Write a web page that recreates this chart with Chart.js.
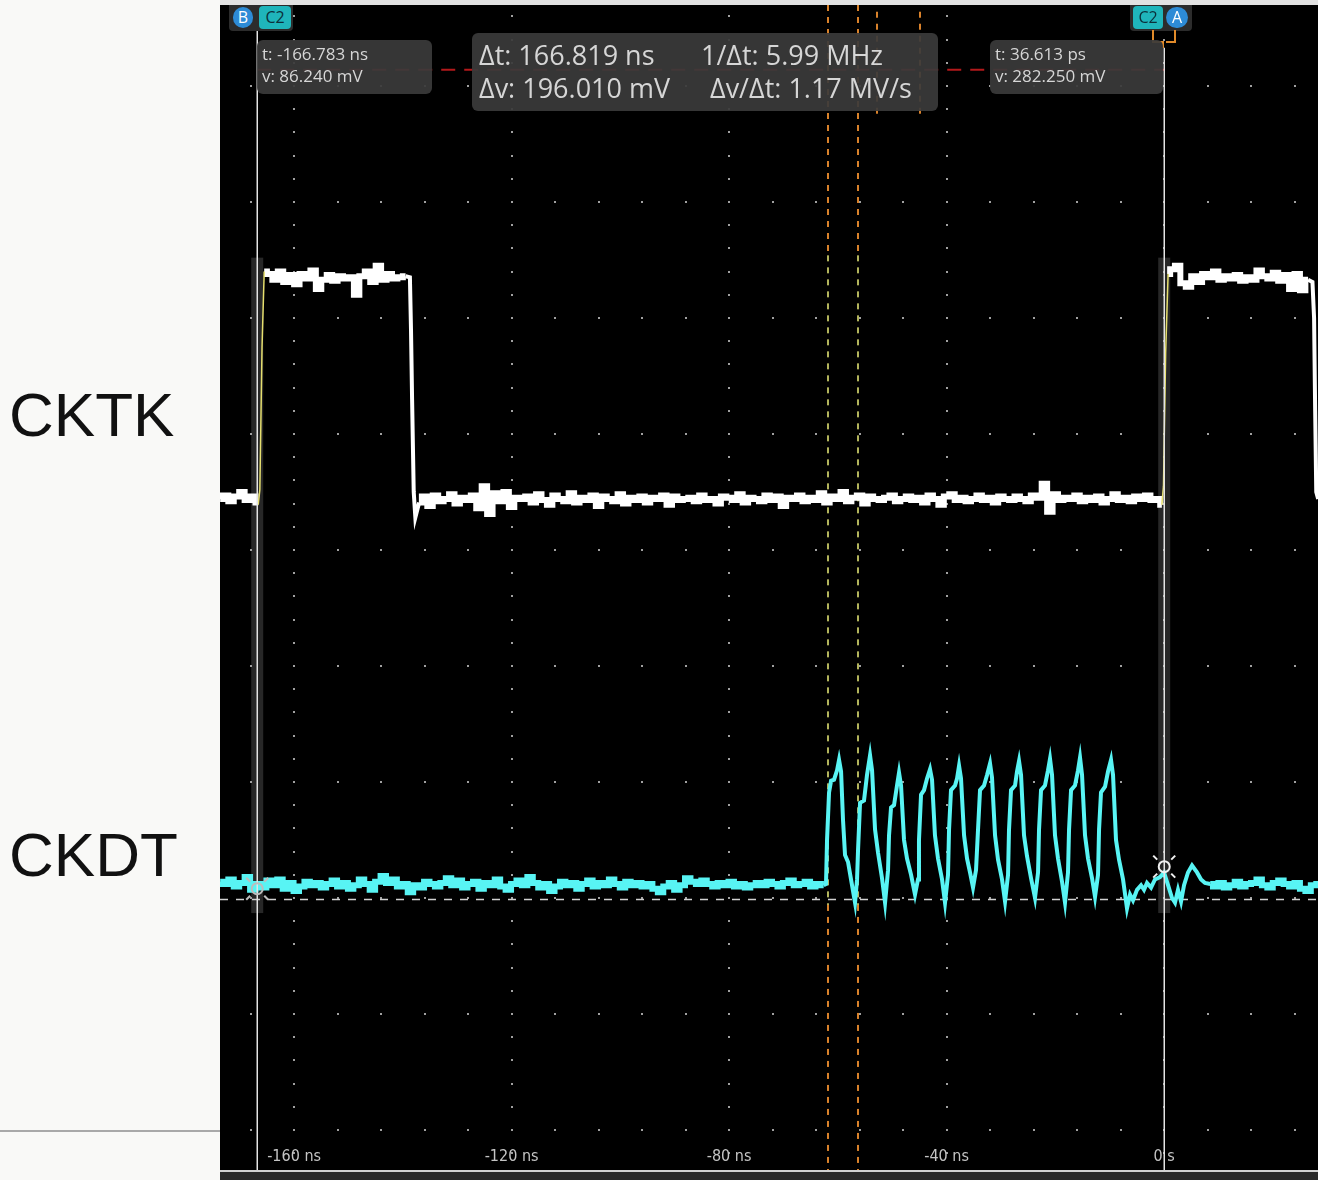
<!DOCTYPE html>
<html>
<head>
<meta charset="utf-8">
<title>CKTK / CKDT capture</title>
<script src="https://cdn.jsdelivr.net/npm/chart.js@4.4.1/dist/chart.umd.min.js"></script>
<style>
  body { margin: 0; width: 1318px; height: 1180px; background: #f9f9f7; position: relative; overflow: hidden; font-family: "Open Sans", sans-serif; }
  #topStrip { position: absolute; left: 220px; top: 0; width: 1098px; height: 5px; background: #e2e2e2; }
  #scope { position: absolute; left: 220px; top: 5px; width: 1098px; height: 1165px; background: #000; }
  #bottomBar { position: absolute; left: 220px; top: 1170px; width: 1098px; height: 10px; background: #2a2a2a; border-top: 2px solid #d2d2d2; box-sizing: border-box; }
  #leftRule { position: absolute; left: 0; top: 1130px; width: 220px; height: 2px; background: #a9a9a9; }
  .chan { position: absolute; left: 9px; font-family: "Liberation Sans", Arial, sans-serif; font-size: 62px; line-height: 62px; color: #111; }
  .box { position: absolute; background: rgba(58, 58, 58, 0.93); border-radius: 6px; color: #d6d6d6; }
  .box span { position: absolute; white-space: nowrap; }
  .small { font-size: 17px; line-height: 22px; }
  .big { font-size: 27px; line-height: 33px; }
  .strip { position: absolute; top: 5px; height: 26px; background: #2c2c2c; border-radius: 0 0 4px 4px; }
  .badge { position: absolute; text-align: center; font-size: 16px; }
  .blue { background: #2d8bd6; color: #fff; border-radius: 11px; height: 21px; line-height: 21px; top: 7px; }
  .cyan { background: #1fb5bb; color: #0b2f3a; border-radius: 4px; height: 23px; line-height: 23px; top: 6px; }
  .wire { position: absolute; background: #e08a2a; }
</style>
</head>
<body>
<div id="topStrip"></div>
<div class="chan" style="top:384px">CKTK</div>
<div class="chan" style="top:824px">CKDT</div>
<div id="leftRule"></div>

<div id="scope"><canvas id="scopeChart" width="1098" height="1165"></canvas></div>
<div id="bottomBar"></div>

<div class="strip" style="left:229px;width:64px"></div>
<div class="badge blue" style="left:233px;width:20px">B</div>
<div class="badge cyan" style="left:259px;width:32px">C2</div>
<div class="strip" style="left:1130px;width:62px"></div>
<div class="badge cyan" style="left:1133px;width:30px">C2</div>
<div class="badge blue" style="left:1166px;width:22px">A</div>
<div class="wire" style="left:1152px;top:30px;width:2px;height:13px"></div>
<div class="wire" style="left:1152px;top:41px;width:10px;height:2px"></div>
<div class="wire" style="left:1174px;top:30px;width:2px;height:13px"></div>
<div class="wire" style="left:1166px;top:41px;width:10px;height:2px"></div>
<div class="wire" style="left:1162px;top:41px;width:2px;height:7px"></div>

<div class="box small" style="left:257px;top:40px;width:175px;height:54px">
  <span style="left:5px;top:3px">t: -166.783 ns</span>
  <span style="left:5px;top:25px">v: 86.240 mV</span>
</div>
<div class="box big" style="left:472px;top:33px;width:466px;height:78px">
  <span style="left:7px;top:5px">Δt: 166.819 ns</span>
  <span style="left:229px;top:5px">1/Δt: 5.99 MHz</span>
  <span style="left:7px;top:38px">Δv: 196.010 mV</span>
  <span style="left:238px;top:38px">Δv/Δt: 1.17 MV/s</span>
</div>
<div class="box small" style="left:990px;top:40px;width:173px;height:54px">
  <span style="left:5px;top:3px">t: 36.613 ps</span>
  <span style="left:5px;top:25px">v: 282.250 mV</span>
</div>

<script>
// screen window: time in ns, vertical in divisions (0 = bottom graticule row)
const TIME_MIN = -173.63;
const TIME_MAX = 28.32;
const DIV_MIN = -0.345;
const DIV_MAX = 9.698;
const SAMPLE_NS = 1;

const xTickValues = [-160, -120, -80, -40, 0];
const xTickLabels = ["-160 ns", "-120 ns", "-80 ns", "-40 ns", "0 s"];
const yGridDivs = [0, 1, 2, 3, 4, 5, 6, 7, 8, 9];
const DOT_STEP_NS = 8;
const xLabelLevel = -0.233;

// cursors B and A
const cursorTimes = [-166.783, 0.0366];
const cursorLevels = [2.08, 2.27];
const cursorTops = [DIV_MAX, 9.33];
const cursorBandRange = [1.87, 7.52];
const readoutGuideLevel = 9.14;
const ckdtRefLevel = 1.99;

// timing markers
const markerTimes = [-61.8, -56.28];
const markerTintRange = [1.94, 7.54];
const shortMarkerTimes = [-52.79, -44.88];
const shortMarkerRange = [8.72, 9.64];

// CKTK (white)
const cktkPreLow = [5.44, 5.47, 5.42, 5.46, 5.5, 5.43, 5.46, 5.41]; // from -173.6 ns
const cktkRiseA = [[-166.6, 5.39], [-166.3, 5.52], [-165.9, 6.75], [-165.5, 7.4]];
const cktkHighA = [7.38, 7.33, 7.4, 7.31, 7.37, 7.29, 7.38, 7.34, 7.41, 7.25, 7.33, 7.37, 7.32,
  7.36, 7.34, 7.35, 7.2, 7.36, 7.4, 7.31, 7.45, 7.33, 7.38, 7.34, 7.35, 7.36]; // from -164.5 ns
const cktkFallA = [[-138.7, 7.35], [-138.5, 6.9], [-138.3, 6.3], [-138.0, 5.5], [-137.7, 5.28]];
const cktkLowB = [
  5.41, 5.46, 5.38, 5.47, 5.42, 5.44, 5.48, 5.4, 5.45, 5.43,
  5.47, 5.36, 5.55, 5.31, 5.49, 5.42, 5.5, 5.37, 5.45, 5.44,
  5.46, 5.41, 5.48, 5.43, 5.39, 5.47, 5.44, 5.42, 5.49, 5.41,
  5.45, 5.43, 5.47, 5.38, 5.46, 5.44, 5.42, 5.48, 5.4, 5.45,
  5.43, 5.46, 5.41, 5.45, 5.44, 5.47, 5.39, 5.46, 5.43, 5.44,
  5.45, 5.42, 5.47, 5.43, 5.44, 5.4, 5.46, 5.45, 5.43, 5.48,
  5.41, 5.45, 5.44, 5.42, 5.47, 5.43, 5.46, 5.38, 5.45, 5.44,
  5.47, 5.42, 5.45, 5.43, 5.49, 5.41, 5.46, 5.44, 5.5, 5.42,
  5.45, 5.47, 5.4, 5.46, 5.44, 5.43, 5.45, 5.47, 5.42, 5.44,
  5.46, 5.43, 5.45, 5.41, 5.47, 5.44, 5.39, 5.46, 5.48, 5.43,
  5.45, 5.42, 5.44, 5.47, 5.43, 5.45, 5.41, 5.46, 5.44, 5.43,
  5.46, 5.44, 5.42, 5.47, 5.45, 5.57, 5.33, 5.48, 5.43, 5.45,
  5.44, 5.47, 5.42, 5.45, 5.43, 5.46, 5.41, 5.44, 5.48, 5.43,
  5.45, 5.42, 5.46, 5.44, 5.47, 5.43, 5.44]; // from -137 ns
const cktkRiseB = [[-0.4, 5.39], [-0.1, 5.55], [0.3, 6.7], [0.75, 7.38]];
const cktkHighB = [7.42, 7.45, 7.3, 7.27, 7.36, 7.31, 7.38, 7.35, 7.4, 7.33, 7.36, 7.34, 7.37,
  7.32, 7.35, 7.33, 7.41, 7.36, 7.34, 7.39, 7.32, 7.37, 7.25, 7.38, 7.24, 7.33]; // from 1.5 ns
const cktkFallB = [[27.3, 7.31], [27.6, 7.0], [27.8, 6.2], [28.0, 5.5], [28.35, 5.44]];

// CKDT (cyan)
const ckdtBaseA = [
  2.14, 2.12, 2.16, 2.1, 2.13, 2.18, 2.07, 2.12, 2.09, 2.15,
  2.11, 2.16, 2.08, 2.13, 2.06, 2.1, 2.14, 2.11, 2.13, 2.09,
  2.12, 2.15, 2.1, 2.13, 2.08, 2.11, 2.16, 2.12, 2.07, 2.14,
  2.19, 2.13, 2.16, 2.1, 2.12, 2.05, 2.11, 2.09, 2.14, 2.12,
  2.1, 2.13, 2.17, 2.11, 2.15, 2.09, 2.12, 2.14, 2.08, 2.13,
  2.11, 2.16, 2.1, 2.07, 2.12, 2.15, 2.11, 2.18, 2.13, 2.09,
  2.12, 2.06, 2.1, 2.14, 2.11, 2.13, 2.08, 2.12, 2.15, 2.1,
  2.13, 2.11, 2.16, 2.12, 2.09, 2.14, 2.11, 2.13, 2.1, 2.12,
  2.08, 2.05, 2.1, 2.13, 2.07, 2.11, 2.17, 2.14, 2.12, 2.15,
  2.12, 2.1, 2.13, 2.11, 2.14, 2.1, 2.12, 2.09, 2.11, 2.13,
  2.11, 2.14, 2.12, 2.1, 2.13, 2.15, 2.11, 2.12, 2.14, 2.1,
  2.12, 2.11]; // from -173.6 ns
const ckdtBurst = [
  [-62.17, 2.12], [-61.98, 2.5], [-61.61, 2.91], [-61.24, 3.01], [-60.69, 3.02], [-60.14, 3.1],
  [-59.77, 3.19], [-59.4, 3.09], [-59.04, 2.67], [-58.67, 2.37], [-58.12, 2.31], [-57.57, 2.16], [-56.83, 1.96],
  [-56.46, 2.16], [-56.28, 2.41], [-55.91, 2.82], [-55.18, 2.84], [-54.63, 3.06], [-54.07, 3.23],
  [-53.7, 3.1], [-53.15, 2.59], [-52.6, 2.39], [-51.87, 2.17], [-51.31, 1.96],
  [-50.76, 2.24], [-50.58, 2.54], [-50.21, 2.78], [-49.66, 2.8], [-49.11, 2.97], [-48.74, 3.08],
  [-48.37, 2.97], [-47.82, 2.5], [-47.27, 2.34], [-46.53, 2.2], [-45.8, 2.03],
  [-45.25, 2.16], [-45.07, 2.5], [-44.69, 2.89], [-44.14, 2.93], [-43.59, 3.03], [-43.04, 3.11],
  [-42.67, 3.02], [-42.13, 2.54], [-41.57, 2.34], [-40.83, 2.16], [-40.28, 1.96],
  [-39.73, 2.2], [-39.54, 2.59], [-39.18, 2.93], [-38.44, 2.97], [-38.07, 3.03], [-37.7, 3.14],
  [-37.34, 3.03], [-36.78, 2.54], [-36.23, 2.34], [-35.68, 2.22], [-35.13, 2.09],
  [-34.58, 2.24], [-34.21, 2.59], [-33.84, 2.93], [-33.11, 2.97], [-32.55, 3.06], [-32.0, 3.16],
  [-31.64, 3.04], [-31.08, 2.54], [-30.53, 2.33], [-29.8, 2.16], [-29.24, 1.97],
  [-28.69, 2.2], [-28.51, 2.59], [-28.14, 2.93], [-27.4, 2.97], [-27.04, 3.09], [-26.67, 3.18],
  [-26.3, 3.06], [-25.75, 2.54], [-25.2, 2.36], [-24.46, 2.17], [-23.73, 2.0],
  [-23.17, 2.22], [-22.99, 2.59], [-22.62, 2.93], [-21.89, 2.97], [-21.34, 3.1], [-20.97, 3.2],
  [-20.6, 3.06], [-20.05, 2.54], [-19.5, 2.34], [-18.76, 2.14], [-18.21, 1.96],
  [-17.66, 2.22], [-17.47, 2.59], [-17.1, 2.93], [-16.37, 2.97], [-15.82, 3.1], [-15.45, 3.21],
  [-15.08, 3.06], [-14.53, 2.54], [-13.98, 2.34], [-13.24, 2.17], [-12.69, 2.01],
  [-12.14, 2.2], [-11.95, 2.59], [-11.59, 2.91], [-10.85, 2.96], [-10.3, 3.09], [-9.75, 3.19],
  [-9.38, 3.06], [-8.83, 2.5], [-8.28, 2.33], [-7.54, 2.16], [-6.81, 1.91],
  [-6.25, 2.03], [-5.7, 1.98], [-4.97, 2.07], [-4.23, 2.11], [-3.68, 2.07], [-3.13, 2.13],
  [-2.39, 2.09], [-1.66, 2.16], [-0.74, 2.18], [0.0, 2.22], [0.74, 2.11], [1.47, 2.0],
  [2.02, 1.96], [2.57, 2.07], [3.13, 1.97], [3.68, 2.11], [4.41, 2.22], [5.15, 2.28],
  [6.07, 2.22], [6.81, 2.16], [7.54, 2.13]];
const ckdtBaseB = [2.12, 2.1, 2.13, 2.09, 2.11, 2.14, 2.1, 2.12, 2.13, 2.16, 2.11,
  2.09, 2.13, 2.15, 2.12, 2.1, 2.13, 2.08, 2.06, 2.11, 2.12]; // from 8.5 ns

function sampled(start, values) {
  return values.map((v, i) => ({ x: start + i * SAMPLE_NS, y: v }));
}

function pairs(list) {
  return list.map(([x, y]) => ({ x, y }));
}

function gapAt(list) {
  return { x: list[0][0] + 0.01, y: null };
}

// noisy flat parts are drawn stepped (blocky like the scope); edges are drawn straight
const cktkFlat = [
  ...sampled(-173.6, cktkPreLow),
  gapAt(cktkRiseA),
  ...pairs(cktkRiseA.slice(-1)),
  ...sampled(-164.5, cktkHighA),
  { x: cktkFallA[0][0], y: null },
  ...sampled(-137, cktkLowB),
  ...pairs(cktkRiseB.slice(0, 1)),
  gapAt(cktkRiseB),
  ...pairs(cktkRiseB.slice(-1)),
  ...sampled(1.5, cktkHighB),
];
const cktkFalls = [
  ...sampled(-139.5, cktkHighA.slice(-1)),
  ...pairs(cktkFallA),
  ...sampled(-137, cktkLowB.slice(0, 1)),
  { x: -60, y: null },
  ...sampled(26.5, cktkHighB.slice(-1)),
  ...pairs(cktkFallB),
];
const edgePoints = [...pairs(cktkRiseA), { x: -80, y: null }, ...pairs(cktkRiseB)];

const ckdtFlat = [
  ...sampled(-173.6, ckdtBaseA),
  { x: -62.3, y: null },
  ...sampled(8.5, ckdtBaseB),
];
const ckdtActive = [
  ...sampled(-62.6, ckdtBaseA.slice(-1)),
  ...pairs(ckdtBurst),
  ...sampled(8.5, ckdtBaseB.slice(0, 1)),
];

function vSegment(ctx, px, y1, y2, color) {
  ctx.strokeStyle = color;
  ctx.beginPath();
  ctx.moveTo(px, y1);
  ctx.lineTo(px, y2);
  ctx.stroke();
}

const scopeOverlay = {
  id: "scopeOverlay",
  beforeDatasetsDraw(chart) {
    const { ctx, chartArea } = chart;
    const x = chart.scales.x;
    const y = chart.scales.y;
    ctx.save();

    // cursor highlight bands
    ctx.fillStyle = "#272727";
    const bandTop = y.getPixelForValue(cursorBandRange[1]);
    const bandBottom = y.getPixelForValue(cursorBandRange[0]);
    cursorTimes.forEach((t) => {
      const px = x.getPixelForValue(t);
      ctx.fillRect(px - 6, bandTop, 12, bandBottom - bandTop);
    });

    // dotted graticule
    ctx.fillStyle = "#a0a0a0";
    yGridDivs.forEach((d) => {
      const py = Math.round(y.getPixelForValue(d));
      for (let t = Math.ceil(x.min / DOT_STEP_NS) * DOT_STEP_NS; t <= x.max; t += DOT_STEP_NS) {
        ctx.fillRect(Math.round(x.getPixelForValue(t)) - 1, py - 1, 2, 2);
      }
    });
    xTickValues.forEach((t) => {
      const px = Math.round(x.getPixelForValue(t));
      for (let k = -1; k * 0.2 <= y.max; k++) {
        ctx.fillRect(px - 1, Math.round(y.getPixelForValue(k * 0.2)) - 1, 2, 2);
      }
    });

    // timing markers
    ctx.lineWidth = 2;
    ctx.setLineDash([6, 6]);
    const tintTop = y.getPixelForValue(markerTintRange[1]);
    const tintBottom = y.getPixelForValue(markerTintRange[0]);
    markerTimes.forEach((t) => {
      const px = Math.round(x.getPixelForValue(t));
      vSegment(ctx, px, chartArea.top, tintTop, "#d9822b");
      vSegment(ctx, px, tintTop, tintBottom, "#b2b45c");
      vSegment(ctx, px, tintBottom, chartArea.bottom, "#d9822b");
    });
    shortMarkerTimes.forEach((t) => {
      const px = Math.round(x.getPixelForValue(t));
      vSegment(ctx, px, y.getPixelForValue(shortMarkerRange[1]), y.getPixelForValue(shortMarkerRange[0]), "#d9822b");
    });

    // readout guide and CKDT reference level
    ctx.strokeStyle = "#b3191b";
    ctx.setLineDash([14, 9]);
    const gy = y.getPixelForValue(readoutGuideLevel);
    ctx.beginPath();
    ctx.moveTo(x.getPixelForValue(cursorTimes[0]), gy);
    ctx.lineTo(x.getPixelForValue(cursorTimes[1]), gy);
    ctx.stroke();

    ctx.strokeStyle = "#d0d0d0";
    ctx.lineWidth = 1.5;
    ctx.setLineDash([8, 8]);
    const ry = Math.round(y.getPixelForValue(ckdtRefLevel)) + 0.5;
    ctx.beginPath();
    ctx.moveTo(chartArea.left, ry);
    ctx.lineTo(chartArea.right, ry);
    ctx.stroke();

    // time axis labels, drawn inside the screen like the scope does
    ctx.setLineDash([]);
    ctx.fillStyle = "#c4c4c4";
    ctx.font = '16px "DejaVu Sans Condensed", "DejaVu Sans", sans-serif';
    ctx.textAlign = "center";
    ctx.textBaseline = "middle";
    xTickValues.forEach((t, i) => {
      ctx.fillText(xTickLabels[i], x.getPixelForValue(t), y.getPixelForValue(xLabelLevel));
    });
    ctx.restore();
  },
  afterDatasetsDraw(chart) {
    const { ctx, chartArea } = chart;
    const x = chart.scales.x;
    const y = chart.scales.y;
    ctx.save();
    ctx.lineWidth = 1.5;
    cursorTimes.forEach((t, i) => {
      const px = Math.round(x.getPixelForValue(t)) + 0.25;
      vSegment(ctx, px, y.getPixelForValue(cursorTops[i]), chartArea.bottom, "#e4e4e4");
    });
    // cursor hit markers on CKDT
    cursorTimes.forEach((t, i) => {
      const cx = x.getPixelForValue(t);
      const cy = y.getPixelForValue(cursorLevels[i]);
      ctx.strokeStyle = i === 0 ? "#bdbdbd" : "#f0f0f0";
      ctx.lineWidth = 2;
      ctx.beginPath();
      ctx.arc(cx, cy, 5.5, 0, Math.PI * 2);
      ctx.stroke();
      [[1, 1], [1, -1], [-1, 1], [-1, -1]].forEach(([sx, sy]) => {
        ctx.beginPath();
        ctx.moveTo(cx + sx * 7, cy + sy * 7);
        ctx.lineTo(cx + sx * 11, cy + sy * 11);
        ctx.stroke();
      });
    });
    ctx.restore();
  },
};

const CKTK_COLOR = "#ffffff";
const CKDT_COLOR = "#58f4f4";

new Chart(document.getElementById("scopeChart"), {
  type: "line",
  data: {
    datasets: [
      { label: "CKDT burst", data: ckdtActive, borderColor: CKDT_COLOR, borderWidth: 4 },
      { label: "CKDT", data: ckdtFlat, borderColor: CKDT_COLOR, borderWidth: 6, stepped: "middle" },
      { label: "CKTK edges", data: edgePoints, borderColor: "#e6df6e", borderWidth: 1.5 },
      { label: "CKTK falls", data: cktkFalls, borderColor: CKTK_COLOR, borderWidth: 4 },
      { label: "CKTK", data: cktkFlat, borderColor: CKTK_COLOR, borderWidth: 6, stepped: "middle" },
    ],
  },
  options: {
    responsive: false,
    animation: false,
    spanGaps: false,
    layout: { padding: 0 },
    elements: { point: { radius: 0 }, line: { tension: 0, borderJoinStyle: "miter" } },
    plugins: { legend: { display: false }, tooltip: { enabled: false } },
    scales: {
      x: { type: "linear", min: TIME_MIN, max: TIME_MAX, display: false },
      y: { type: "linear", min: DIV_MIN, max: DIV_MAX, display: false },
    },
  },
  plugins: [scopeOverlay],
});
</script>
</body>
</html>
